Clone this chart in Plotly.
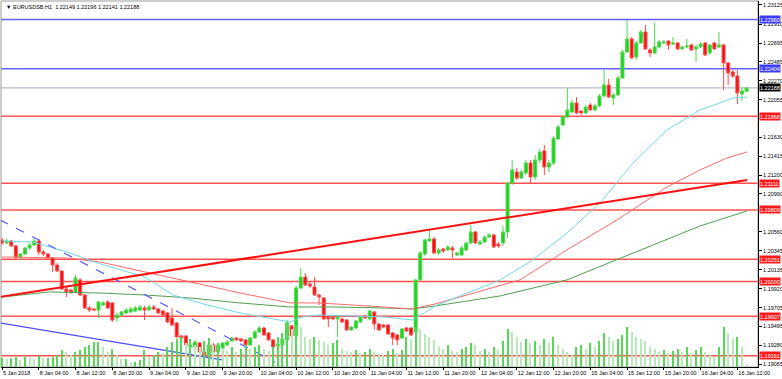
import plotly.graph_objects as go

# ---------------- data (EURUSD H1, bar 0 = 5 Jan 2018 20:00) ----------------
opens = [
    1.20470, 1.20436, 1.20458, 1.20402, 1.20277, 1.20311, 1.20379, 1.20413, 1.20458, 1.20334,
    1.20311, 1.20266, 1.20187, 1.20119, 1.19916, 1.19904, 1.19882, 1.20018, 1.19848, 1.19701,
    1.19690, 1.19678, 1.19735, 1.19769, 1.19758, 1.19588, 1.19622, 1.19645, 1.19656, 1.19667,
    1.19678, 1.19701, 1.19678, 1.19712, 1.19690, 1.19667, 1.19645, 1.19588, 1.19532, 1.19385,
    1.19385, 1.19260, 1.19260, 1.19306, 1.19204, 1.19170, 1.19283, 1.19204, 1.19249, 1.19283,
    1.19328, 1.19362, 1.19351, 1.19340, 1.19283, 1.19362, 1.19430, 1.19475, 1.19419, 1.19340,
    1.19272, 1.19283, 1.19340, 1.19498, 1.19385, 1.19927, 1.20051, 1.19972, 1.19938, 1.19848,
    1.19814, 1.19599, 1.19599, 1.19577, 1.19577, 1.19565, 1.19453, 1.19475, 1.19543, 1.19611,
    1.19577, 1.19656, 1.19520, 1.19509, 1.19509, 1.19419, 1.19396, 1.19362, 1.19475, 1.19475,
    1.19430, 1.20018, 1.20311, 1.20458, 1.20481, 1.20323, 1.20368, 1.20357, 1.20379, 1.20300,
    1.20300, 1.20357, 1.20436, 1.20560, 1.20424, 1.20447, 1.20503, 1.20526, 1.20424, 1.20436,
    1.20560, 1.21114, 1.21238, 1.21170, 1.21227, 1.21340, 1.21181, 1.21374, 1.21476, 1.21294,
    1.21340, 1.21611, 1.21769, 1.21859, 1.21916, 1.22018, 1.21927, 1.21905, 1.21995, 1.21939,
    1.21984, 1.22097, 1.22221, 1.22074, 1.22108, 1.22300, 1.22594, 1.22741, 1.22537, 1.22696,
    1.22820, 1.22617, 1.22583, 1.22651, 1.22696, 1.22718, 1.22684, 1.22696, 1.22628, 1.22651,
    1.22673, 1.22628, 1.22651, 1.22696, 1.22583, 1.22696, 1.22651, 1.22673, 1.22470, 1.22368,
    1.22323, 1.22119, 1.22149,
]
highs = [
    1.20492, 1.20481, 1.20470, 1.20413, 1.20323, 1.20390, 1.20436, 1.20492, 1.20470, 1.20357,
    1.20323, 1.20277, 1.20210, 1.20131, 1.19938, 1.19916, 1.20074, 1.20040, 1.19859, 1.19724,
    1.19701, 1.19780, 1.19780, 1.19792, 1.19769, 1.19645, 1.19667, 1.19701, 1.19712, 1.19724,
    1.19735, 1.19724, 1.19735, 1.19735, 1.19701, 1.19678, 1.19656, 1.19701, 1.19543, 1.19396,
    1.19396, 1.19306, 1.19340, 1.19317, 1.19215, 1.19306, 1.19306, 1.19294, 1.19317, 1.19340,
    1.19374, 1.19374, 1.19362, 1.19351, 1.19374, 1.19453, 1.19498, 1.19486, 1.19430, 1.19351,
    1.19317, 1.19374, 1.19565, 1.19509, 1.19950, 1.20153, 1.20097, 1.19995, 1.20051, 1.19859,
    1.19825, 1.19611, 1.19611, 1.19611, 1.19588, 1.19577, 1.19498, 1.19565, 1.19611, 1.19622,
    1.19678, 1.19667, 1.19532, 1.19520, 1.19520, 1.19430, 1.19407, 1.19475, 1.19486, 1.19486,
    1.20029, 1.20345, 1.20481, 1.20582, 1.20503, 1.20379, 1.20379, 1.20413, 1.20402, 1.20334,
    1.20402, 1.20447, 1.20639, 1.20571, 1.20470, 1.20515, 1.20548, 1.20537, 1.20447, 1.20628,
    1.21125, 1.21374, 1.21283, 1.21261, 1.21374, 1.21374, 1.21430, 1.21498, 1.21543, 1.21374,
    1.21645, 1.21769, 1.21882, 1.22188, 1.22052, 1.22085, 1.21939, 1.21995, 1.22018, 1.22006,
    1.22119, 1.22391, 1.22289, 1.22131, 1.22323, 1.22617, 1.22956, 1.22763, 1.22718, 1.22843,
    1.22899, 1.22639, 1.22922, 1.22730, 1.22730, 1.22730, 1.22763, 1.22707, 1.22662, 1.22741,
    1.22684, 1.22673, 1.22707, 1.22707, 1.22684, 1.22707, 1.22820, 1.22684, 1.22481, 1.22391,
    1.22391, 1.22188, 1.22196,
]
lows = [
    1.20413, 1.20424, 1.20390, 1.20255, 1.20244, 1.20300, 1.20357, 1.20402, 1.20300, 1.20289,
    1.20255, 1.20108, 1.20108, 1.19904, 1.19825, 1.19859, 1.19870, 1.19837, 1.19690, 1.19656,
    1.19667, 1.19588, 1.19724, 1.19690, 1.19543, 1.19543, 1.19611, 1.19633, 1.19645, 1.19656,
    1.19667, 1.19565, 1.19667, 1.19678, 1.19633, 1.19611, 1.19532, 1.19498, 1.19362, 1.19351,
    1.19260, 1.19249, 1.19249, 1.19181, 1.19159, 1.19159, 1.19193, 1.19193, 1.19238, 1.19272,
    1.19317, 1.19328, 1.19317, 1.19272, 1.19272, 1.19351, 1.19419, 1.19385, 1.19328, 1.19249,
    1.19249, 1.19260, 1.19328, 1.19362, 1.19362, 1.19916, 1.19950, 1.19927, 1.19837, 1.19735,
    1.19565, 1.19486, 1.19565, 1.19374, 1.19532, 1.19441, 1.19441, 1.19464, 1.19532, 1.19577,
    1.19565, 1.19453, 1.19441, 1.19475, 1.19396, 1.19283, 1.19283, 1.19351, 1.19430, 1.19385,
    1.19407, 1.20006, 1.20289, 1.20447, 1.20311, 1.20300, 1.20323, 1.20345, 1.20266, 1.20289,
    1.20289, 1.20345, 1.20424, 1.20424, 1.20413, 1.20436, 1.20492, 1.20379, 1.20379, 1.20402,
    1.20492, 1.21091, 1.21148, 1.21159, 1.21204, 1.21114, 1.21148, 1.21340, 1.21204, 1.21238,
    1.21317, 1.21600, 1.21758, 1.21848, 1.21905, 1.21893, 1.21882, 1.21893, 1.21927, 1.21927,
    1.21972, 1.22085, 1.22074, 1.21995, 1.22097, 1.22289, 1.22583, 1.22515, 1.22504, 1.22684,
    1.22617, 1.22537, 1.22571, 1.22639, 1.22684, 1.22617, 1.22673, 1.22617, 1.22617, 1.22639,
    1.22605, 1.22481, 1.22639, 1.22549, 1.22560, 1.22617, 1.22639, 1.22165, 1.22221, 1.22300,
    1.22006, 1.22040, 1.22141,
]
closes = [
    1.20436, 1.20458, 1.20402, 1.20277, 1.20311, 1.20379, 1.20413, 1.20458, 1.20334, 1.20311,
    1.20266, 1.20187, 1.20119, 1.19916, 1.19882, 1.19882, 1.20040, 1.19848, 1.19701, 1.19678,
    1.19678, 1.19769, 1.19758, 1.19701, 1.19565, 1.19622, 1.19656, 1.19678, 1.19690, 1.19701,
    1.19712, 1.19678, 1.19712, 1.19690, 1.19645, 1.19622, 1.19543, 1.19509, 1.19374, 1.19362,
    1.19283, 1.19283, 1.19317, 1.19204, 1.19170, 1.19283, 1.19204, 1.19283, 1.19306, 1.19317,
    1.19362, 1.19340, 1.19328, 1.19283, 1.19362, 1.19430, 1.19475, 1.19396, 1.19340, 1.19260,
    1.19294, 1.19351, 1.19532, 1.19385, 1.19927, 1.20051, 1.19961, 1.19950, 1.19848, 1.19825,
    1.19577, 1.19577, 1.19577, 1.19599, 1.19543, 1.19453, 1.19486, 1.19554, 1.19599, 1.19588,
    1.19667, 1.19520, 1.19453, 1.19486, 1.19407, 1.19362, 1.19340, 1.19464, 1.19441, 1.19396,
    1.20018, 1.20323, 1.20470, 1.20481, 1.20323, 1.20357, 1.20345, 1.20390, 1.20357, 1.20323,
    1.20379, 1.20436, 1.20560, 1.20436, 1.20447, 1.20503, 1.20526, 1.20390, 1.20402, 1.20560,
    1.21114, 1.21261, 1.21170, 1.21238, 1.21340, 1.21181, 1.21374, 1.21464, 1.21294, 1.21340,
    1.21619, 1.21746, 1.21859, 1.21939, 1.22018, 1.21905, 1.21905, 1.21972, 1.21939, 1.21984,
    1.22097, 1.22221, 1.22085, 1.22108, 1.22300, 1.22594, 1.22741, 1.22526, 1.22696, 1.22820,
    1.22628, 1.22583, 1.22651, 1.22707, 1.22707, 1.22673, 1.22696, 1.22628, 1.22651, 1.22662,
    1.22617, 1.22651, 1.22684, 1.22560, 1.22673, 1.22628, 1.22673, 1.22470, 1.22357, 1.22323,
    1.22131, 1.22153, 1.22188,
]
volumes = [
    900, 800, 900, 1000, 700, 1000, 900, 800, 1100, 900, 900, 1000, 1200,
    1700, 1500, 1200, 1500, 1700, 2000, 2200, 2500, 2500, 2000, 1500, 1800, 1200, 800, 800, 500, 500, 700, 1700,
    1000, 1200, 1500, 1400, 2000, 2500, 2800, 3000, 2400, 2800, 2200, 2000, 2600,
    2900, 2200, 2400, 1800, 1600, 2000, 1500, 1800, 2200, 1800, 2000, 2200, 1800, 1600, 2000, 3000, 3400,
    4500, 3800, 4200, 4000, 3000, 2800, 3000, 2700,
    2500, 2200, 2400, 2700, 1800, 1600, 1500, 1700, 1400, 1500, 1800,
    1500, 1300, 1200, 1600, 1800, 1400, 1700,
    3000, 2800, 4000, 3800, 3300, 3000, 2700,
    2000, 1800, 2200, 1600, 1500, 1800, 2000, 2400, 2200, 1600, 1800, 1500, 2000, 1700,
    2600, 3800, 3500, 3000, 2500, 2800, 2400, 2600, 2200, 2800, 2400, 3000,
    2200, 1800, 1500, 1200, 2000, 2200, 1800, 2400, 2000, 2600,
    3400, 3000, 2600, 2800, 3200, 4000, 3500, 3000, 2800, 2600,
    2000, 1800, 1500, 1700, 1400, 1600, 1800, 1500, 2000, 1400, 1700,
    2000, 1500, 1200, 1000, 2000, 4000, 3400, 2800, 3000, 2000, 300,
]

# x-axis time labels (bar index of each label)
tick_idx = [0, 8, 16, 24, 32, 40, 48, 56, 64, 72, 80, 88, 96, 104, 112, 120, 128, 136, 144, 152, 160]
tick_labels = ["5 Jan 2018", "8 Jan 04:00", "8 Jan 12:00", "8 Jan 20:00", "9 Jan 04:00",
               "9 Jan 12:00", "9 Jan 20:00", "10 Jan 04:00", "10 Jan 12:00", "10 Jan 20:00",
               "11 Jan 04:00", "11 Jan 12:00", "11 Jan 20:00", "12 Jan 04:00", "12 Jan 12:00",
               "12 Jan 20:00", "15 Jan 04:00", "15 Jan 12:00", "15 Jan 20:00", "16 Jan 04:00",
               "16 Jan 12:00"]
# price scale labels visible in the reference (those under the coloured boxes are hidden)
price_ticks = [1.23125, 1.22910, 1.22695, 1.22485, 1.22270, 1.22055, 1.21630, 1.21415,
               1.21200, 1.20990, 1.20560, 1.20345, 1.20135, 1.19920, 1.19705, 1.19495,
               1.19280, 1.19065]

# moving averages (read at sample bars)
ma_fast_idx = [0, 6.7, 14.1, 20.7, 31.1, 37.2, 44.6, 51.8, 59.0, 62.7, 65.3, 68.8, 76.2, 83.3, 89.2,
               90.5, 94.2, 108.4, 115.5, 122.9, 130.1, 137.3, 144.7, 151.9, 156.2, 159.0, 162.1]
ma_fast = [1.20458, 1.20447, 1.20334, 1.20210, 1.20051, 1.19848, 1.19735, 1.19645, 1.19577, 1.19543,
           1.19599, 1.19622, 1.19611, 1.19599, 1.19565, 1.19599, 1.19724, 1.20018, 1.20244, 1.20548,
           1.20888, 1.21340, 1.21713, 1.21939, 1.22018, 1.22074, 1.22085]
ma_mid_idx = [0, 14.1, 21.3, 31.1, 40.9, 51.8, 62.7, 68.8, 76.2, 83.3, 89.2, 94.2, 112.7, 122.9,
              133.8, 144.7, 151.9, 157.7, 162.1]
ma_mid = [1.20277, 1.20266, 1.20221, 1.20108, 1.19995, 1.19870, 1.19758, 1.19758, 1.19735, 1.19712,
          1.19690, 1.19746, 1.20018, 1.20357, 1.20696, 1.21068, 1.21261, 1.21396, 1.21464]
ma_slow_idx = [0, 10.4, 21.3, 31.1, 40.9, 51.8, 62.7, 72.5, 83.3, 89.2, 94.2, 108.4, 122.9, 137.3,
               151.9, 162.1]
ma_slow = [1.19825, 1.19882, 1.19870, 1.19848, 1.19814, 1.19758, 1.19712, 1.19712, 1.19701, 1.19690,
           1.19724, 1.19837, 1.20018, 1.20323, 1.20628, 1.20797]

# trend lines (anchor bar index, price)
trend_red_idx = [-0.44, 162.1]
trend_red_price = [1.19825, 1.21148]
trend_blue_idx = [-0.44, 47.9]
trend_blue_price = [1.19532, 1.19114]
trend_blue_dash_idx = [-0.44, 59.4]
trend_blue_dash_price = [1.20696, 1.19091]

# horizontal levels
red_levels = [1.21868, 1.21111, 1.20809, 1.20251, 1.20000, 1.19607, 1.19161]
blue_levels = [1.22960, 1.22404]
bid_price = 1.22188

header = "\u25bc EURUSDSB,H1  1.22149 1.22196 1.22141 1.22188"

# ---------------- figure ----------------
FONT = "Liberation Sans, Arial, sans-serif"
FS = 5.5
idx = list(range(len(opens)))

fig = go.Figure()

vol_colors = []
for i, v in enumerate(volumes):
    up = i == 0 or v >= volumes[i - 1]
    vol_colors.append("#55d855" if up else "#b9e9b9")
fig.add_trace(go.Bar(x=idx, y=volumes, width=0.24, yaxis="y2",
                     marker=dict(color=vol_colors, line=dict(width=0)), hoverinfo="skip"))

for lv in red_levels:
    fig.add_shape(type="line", xref="paper", x0=0, x1=1, y0=lv, y1=lv,
                  line=dict(color="rgba(255,50,50,0.85)", width=1.5), layer="below")
for lv in blue_levels:
    fig.add_shape(type="line", xref="paper", x0=0, x1=1, y0=lv, y1=lv,
                  line=dict(color="rgba(80,80,255,0.9)", width=1.5), layer="below")
fig.add_shape(type="line", xref="paper", x0=0, x1=1, y0=bid_price, y1=bid_price,
              line=dict(color="#a3abbb", width=1), layer="below")

fig.add_trace(go.Scatter(x=ma_slow_idx, y=ma_slow, mode="lines",
                         line=dict(color="#4f9f4f", width=1), hoverinfo="skip"))
fig.add_trace(go.Scatter(x=ma_mid_idx, y=ma_mid, mode="lines",
                         line=dict(color="#ff6a6a", width=1), hoverinfo="skip"))
fig.add_trace(go.Scatter(x=ma_fast_idx, y=ma_fast, mode="lines",
                         line=dict(color="#6fd8e6", width=1), hoverinfo="skip"))

fig.add_trace(go.Scatter(x=trend_blue_idx, y=trend_blue_price, mode="lines",
                         line=dict(color="#4b4bff", width=1.2), hoverinfo="skip"))
fig.add_trace(go.Scatter(x=trend_blue_dash_idx, y=trend_blue_dash_price, mode="lines",
                         line=dict(color="#5a5aff", width=1.2, dash="dash"), hoverinfo="skip"))
fig.add_trace(go.Scatter(x=trend_red_idx, y=trend_red_price, mode="lines",
                         line=dict(color="#ff1010", width=2), hoverinfo="skip"))

fig.add_trace(go.Candlestick(
    x=idx, open=opens, high=highs, low=lows, close=closes,
    increasing=dict(line=dict(color="#4cd84c", width=1), fillcolor="#1fd11f"),
    decreasing=dict(line=dict(color="#ff4a4a", width=1), fillcolor="#f01010"),
    whiskerwidth=0, hoverinfo="skip"))

# right-side boxed price labels
def box(price, bg, fg="white"):
    fig.add_annotation(xref="paper", x=1, xanchor="left", xshift=1, y=price, yref="y",
                       text=f"{price:.5f}", showarrow=False, bgcolor=bg, borderpad=0,
                       height=7, valign="middle",
                       font=dict(family=FONT, size=FS, color=fg), align="left")

for lv in blue_levels:
    box(lv, "#3c3cff")
box(bid_price, "#000000")
for lv in red_levels:
    box(lv, "#ff1a1a")

fig.add_annotation(xref="paper", yref="paper", x=0, y=1, xanchor="left", yanchor="top",
                   xshift=3, yshift=-1, text=header, showarrow=False,
                   font=dict(family=FONT, size=FS, color="#000000"))

fig.update_layout(
    width=782, height=379,
    margin=dict(l=1, r=24, t=1, b=12, autoexpand=False),
    paper_bgcolor="white", plot_bgcolor="white",
    showlegend=False, boxgap=0.35, boxgroupgap=0, bargap=0,
    xaxis=dict(range=[-0.22, 164.49], tickvals=tick_idx, ticktext=tick_labels,
               ticklabelposition="outside right", tickangle=0, ticks="outside", ticklen=2,
               tickcolor="#000", tickfont=dict(family=FONT, size=FS, color="#000"),
               showline=True, linecolor="#000", linewidth=1, showgrid=False, automargin=False,
               zeroline=False, rangeslider=dict(visible=False), fixedrange=True),
    yaxis=dict(range=[1.19034, 1.23170], side="right", tickvals=price_ticks,
               ticktext=[f"{p:.5f}" for p in price_ticks], ticks="outside", ticklen=3,
               tickcolor="#000", tickfont=dict(family=FONT, size=FS, color="#000"),
               showline=True, linecolor="#000", linewidth=1, showgrid=False, automargin=False,
               zeroline=False, fixedrange=True),
    yaxis2=dict(range=[0, 36600], overlaying="y", visible=False, fixedrange=True),
)
fig.add_shape(type="rect", xref="paper", yref="paper", x0=0, x1=1, y0=0, y1=1,
              line=dict(color="#9a9a9a", width=1), layer="below")

fig.write_html("out.html", config={"displayModeBar": False},
               post_script="document.body.style.margin='0';document.body.style.padding='0';")
